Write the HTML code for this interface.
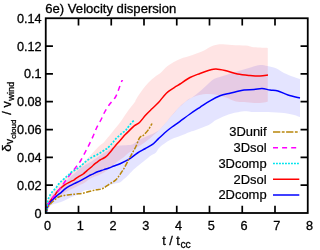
<!DOCTYPE html>
<html><head><meta charset="utf-8"><title>6e) Velocity dispersion</title>
<style>
html,body{margin:0;padding:0;background:#fff;}
body{width:320px;height:250px;overflow:hidden;position:relative;font-family:"Liberation Sans",sans-serif;}
</style></head><body>
<svg width="320" height="250" viewBox="0 0 320 250" style="position:absolute;left:0;top:0;will-change:transform">
<rect width="320" height="250" fill="#fff"/>
<path d="M46.00,213.00 C46.17,211.83 46.50,208.08 47.00,206.00 C47.50,203.92 48.08,202.33 49.00,200.50 C49.92,198.67 51.33,196.58 52.50,195.00 C53.67,193.42 54.75,192.33 56.00,191.00 C57.25,189.67 58.33,188.67 60.00,187.00 C61.67,185.33 64.33,182.67 66.00,181.00 C67.67,179.33 68.33,178.50 70.00,177.00 C71.67,175.50 74.33,173.40 76.00,172.00 C77.67,170.60 78.33,169.85 80.00,168.60 C81.67,167.35 84.07,165.73 86.00,164.50 C87.93,163.27 89.40,162.63 91.60,161.20 C93.80,159.77 96.92,157.42 99.20,155.90 C101.48,154.38 103.83,152.98 105.30,152.10 C106.77,151.22 106.57,151.53 108.00,150.60 C109.43,149.67 112.03,147.33 113.90,146.50 C115.77,145.67 116.85,145.85 119.20,145.60 C121.55,145.35 125.83,145.17 128.00,145.00 C130.18,144.83 130.67,145.27 132.25,144.60 C133.83,143.93 135.62,142.14 137.50,141.00 C139.38,139.86 141.25,138.82 143.50,137.75 C145.75,136.68 148.58,135.72 151.00,134.60 C153.42,133.47 156.33,132.10 158.00,131.00 C159.67,129.90 159.67,129.42 161.00,128.00 C162.33,126.58 164.27,124.55 166.00,122.50 C167.73,120.45 169.73,117.68 171.40,115.70 C173.07,113.72 174.57,112.17 176.00,110.60 C177.43,109.03 178.00,108.13 180.00,106.30 C182.00,104.47 186.00,101.07 188.00,99.60 C190.00,98.13 190.00,98.88 192.00,97.50 C194.00,96.12 197.33,93.55 200.00,91.30 C202.67,89.05 205.67,86.05 208.00,84.00 C210.33,81.95 211.67,80.28 214.00,79.00 C216.33,77.72 219.00,77.30 222.00,76.30 C225.00,75.30 228.67,74.05 232.00,73.00 C235.33,71.95 238.67,71.00 242.00,70.00 C245.33,69.00 249.00,67.83 252.00,67.00 C255.00,66.17 257.40,65.17 260.00,65.00 C262.60,64.83 264.93,65.45 267.60,66.00 C270.27,66.55 273.27,67.13 276.00,68.30 C278.73,69.47 281.00,71.55 284.00,73.00 C287.00,74.45 291.33,76.00 294.00,77.00 C296.67,78.00 299.00,78.67 300.00,79.00 L300.00,117.00 C299.00,116.67 296.67,115.67 294.00,115.00 C291.33,114.33 288.33,113.50 284.00,113.00 C279.67,112.50 273.00,112.17 268.00,112.00 C263.00,111.83 258.00,112.13 254.00,112.00 C250.00,111.87 247.00,111.10 244.00,111.20 C241.00,111.30 239.00,111.90 236.00,112.60 C233.00,113.30 229.33,114.17 226.00,115.40 C222.67,116.63 218.67,118.53 216.00,120.00 C213.33,121.47 212.25,122.95 210.00,124.20 C207.75,125.45 204.83,126.53 202.50,127.50 C200.17,128.47 198.08,129.25 196.00,130.00 C193.92,130.75 192.67,131.00 190.00,132.00 C187.33,133.00 183.33,134.67 180.00,136.00 C176.67,137.33 173.33,138.17 170.00,140.00 C166.67,141.83 162.33,144.92 160.00,147.00 C157.67,149.08 157.50,151.07 156.00,152.50 C154.50,153.93 152.88,154.25 151.00,155.60 C149.12,156.95 146.83,158.93 144.75,160.60 C142.67,162.27 140.58,163.87 138.50,165.60 C136.42,167.33 134.00,169.35 132.25,171.00 C130.50,172.65 129.38,174.15 128.00,175.50 C126.62,176.85 125.29,177.97 124.00,179.10 C122.71,180.22 121.71,181.52 120.25,182.25 C118.79,182.98 117.12,182.97 115.25,183.50 C113.38,184.03 111.08,184.67 109.00,185.40 C106.92,186.13 104.83,187.28 102.75,187.90 C100.67,188.52 98.58,188.79 96.50,189.10 C94.42,189.41 92.33,189.47 90.25,189.75 C88.17,190.03 85.96,190.05 84.00,190.80 C82.04,191.55 80.67,193.18 78.50,194.25 C76.33,195.32 73.50,196.12 71.00,197.25 C68.50,198.38 65.47,200.11 63.50,201.00 C61.53,201.89 60.45,202.18 59.20,202.60 C57.95,203.02 57.27,203.12 56.00,203.50 C54.73,203.88 52.83,204.17 51.60,204.90 C50.37,205.63 49.53,206.55 48.60,207.90 C47.67,209.25 46.43,212.15 46.00,213.00 Z" fill="#0000ff" fill-opacity="0.105"/>
<path d="M46.00,213.00 C46.08,212.42 46.33,210.60 46.50,209.50 C46.67,208.40 46.72,208.05 47.00,206.40 C47.28,204.75 47.75,201.37 48.20,199.60 C48.65,197.83 48.98,197.15 49.70,195.80 C50.42,194.45 51.45,192.83 52.50,191.50 C53.55,190.17 54.92,189.12 56.00,187.80 C57.08,186.48 57.98,184.80 59.00,183.60 C60.02,182.40 60.95,181.68 62.10,180.60 C63.25,179.52 64.92,177.98 65.90,177.10 C66.88,176.22 67.15,176.12 68.00,175.30 C68.85,174.48 69.98,173.08 71.00,172.20 C72.02,171.32 73.08,170.70 74.10,170.00 C75.12,169.30 76.08,168.75 77.10,168.00 C78.12,167.25 79.18,166.37 80.20,165.50 C81.22,164.63 82.07,163.88 83.20,162.80 C84.33,161.72 85.98,160.03 87.00,159.00 C88.02,157.97 88.13,157.85 89.30,156.60 C90.47,155.35 92.35,153.27 94.00,151.50 C95.65,149.73 97.53,147.55 99.20,146.00 C100.87,144.45 102.57,143.60 104.00,142.20 C105.43,140.80 106.53,139.13 107.80,137.60 C109.07,136.07 110.58,134.27 111.60,133.00 C112.62,131.73 112.32,132.00 113.90,130.00 C115.48,128.00 118.88,124.02 121.10,121.00 C123.32,117.98 124.92,115.07 127.20,111.90 C129.48,108.73 133.33,104.07 134.80,102.00 C136.27,99.93 134.76,101.50 136.00,99.50 C137.24,97.50 140.17,92.82 142.25,90.00 C144.33,87.18 146.42,84.77 148.50,82.60 C150.58,80.43 152.67,78.67 154.75,77.00 C156.83,75.33 158.88,74.43 161.00,72.60 C163.12,70.77 164.33,68.27 167.50,66.00 C170.67,63.73 175.83,60.83 180.00,59.00 C184.17,57.17 188.33,56.50 192.50,55.00 C196.67,53.50 202.08,51.33 205.00,50.00 C207.92,48.67 207.83,47.93 210.00,47.00 C212.17,46.07 214.33,44.73 218.00,44.40 C221.67,44.07 227.33,44.80 232.00,45.00 C236.67,45.20 242.67,45.27 246.00,45.60 C249.33,45.93 249.67,46.67 252.00,47.00 C254.33,47.33 257.37,47.43 260.00,47.60 C262.63,47.77 266.50,47.93 267.80,48.00 L267.80,101.50 C267.17,101.65 266.30,102.15 264.00,102.40 C261.70,102.65 257.33,103.07 254.00,103.00 C250.67,102.93 247.00,102.23 244.00,102.00 C241.00,101.77 239.00,102.33 236.00,101.60 C233.00,100.87 229.33,98.73 226.00,97.60 C222.67,96.47 219.33,95.40 216.00,94.80 C212.67,94.20 209.33,93.80 206.00,94.00 C202.67,94.20 199.00,95.02 196.00,96.00 C193.00,96.98 190.67,98.13 188.00,99.90 C185.33,101.67 182.00,104.77 180.00,106.60 C178.00,108.43 177.43,109.33 176.00,110.90 C174.57,112.47 173.07,114.02 171.40,116.00 C169.73,117.98 167.73,120.75 166.00,122.80 C164.27,124.85 162.33,126.88 161.00,128.30 C159.67,129.72 158.83,130.52 158.00,131.30 C157.17,132.08 157.58,131.62 156.00,133.00 C154.42,134.38 151.00,137.60 148.50,139.60 C146.00,141.60 143.29,143.47 141.00,145.00 C138.71,146.53 136.83,147.42 134.75,148.75 C132.67,150.08 130.29,151.62 128.50,153.00 C126.71,154.38 125.46,155.83 124.00,157.00 C122.54,158.17 121.22,158.92 119.75,160.00 C118.28,161.08 116.99,162.08 115.20,163.50 C113.41,164.92 110.87,167.00 109.00,168.50 C107.13,170.00 105.80,171.35 104.00,172.50 C102.20,173.65 99.92,174.67 98.20,175.40 C96.48,176.13 95.22,176.27 93.70,176.90 C92.18,177.53 90.63,178.22 89.10,179.20 C87.57,180.18 86.52,181.58 84.50,182.80 C82.48,184.02 79.42,185.33 77.00,186.50 C74.58,187.67 72.17,188.63 70.00,189.80 C67.83,190.97 66.00,192.22 64.00,193.50 C62.00,194.78 59.83,196.25 58.00,197.50 C56.17,198.75 54.42,199.83 53.00,201.00 C51.58,202.17 50.67,202.50 49.50,204.50 C48.33,206.50 46.58,211.58 46.00,213.00 Z" fill="#ff0000" fill-opacity="0.105"/>
<path d="M46.00,213.00 C46.08,212.42 46.27,210.85 46.50,209.50 C46.73,208.15 46.80,206.30 47.40,204.90 C48.00,203.50 49.15,202.37 50.10,201.10 C51.05,199.83 52.28,198.32 53.10,197.30 C53.92,196.28 54.35,195.88 55.00,195.00 C55.65,194.12 56.07,193.13 57.00,192.00 C57.93,190.87 59.25,189.42 60.60,188.20 C61.95,186.98 63.58,185.72 65.10,184.70 C66.62,183.68 68.18,182.92 69.70,182.10 C71.22,181.28 73.22,180.38 74.20,179.80 C75.18,179.22 74.73,179.20 75.60,178.60 C76.47,178.00 78.13,176.97 79.40,176.20 C80.67,175.43 81.93,174.93 83.20,174.00 C84.47,173.07 85.53,171.85 87.00,170.60 C88.47,169.35 90.85,167.50 92.00,166.50 C93.15,165.50 93.08,165.30 93.90,164.60 C94.72,163.90 95.88,163.07 96.90,162.30 C97.92,161.53 98.98,160.63 100.00,160.00 C101.02,159.37 102.00,159.07 103.00,158.50 C104.00,157.93 105.17,157.23 106.00,156.60 C106.83,155.97 106.82,156.03 108.00,154.70 C109.18,153.37 111.73,150.25 113.10,148.60 C114.47,146.95 115.18,146.00 116.20,144.80 C117.22,143.60 118.20,142.53 119.20,141.40 C120.20,140.27 121.18,139.13 122.20,138.00 C123.22,136.87 124.33,135.62 125.30,134.60 C126.27,133.58 126.47,133.40 128.00,131.90 C129.53,130.40 132.58,127.17 134.50,125.60 C136.42,124.03 137.62,124.27 139.50,122.50 C141.38,120.73 143.67,117.29 145.75,115.00 C147.83,112.71 149.88,110.82 152.00,108.75 C154.12,106.68 156.58,104.66 158.50,102.60 C160.42,100.54 161.83,98.27 163.50,96.40 C165.17,94.53 166.42,93.07 168.50,91.40 C170.58,89.73 174.08,87.63 176.00,86.40 C177.92,85.17 177.67,85.48 180.00,84.00 C182.33,82.52 186.67,79.25 190.00,77.50 C193.33,75.75 196.67,74.75 200.00,73.50 C203.33,72.25 207.33,70.75 210.00,70.00 C212.67,69.25 213.50,68.92 216.00,69.00 C218.50,69.08 221.42,69.67 225.00,70.50 C228.58,71.33 233.33,73.17 237.50,74.00 C241.67,74.83 246.25,75.17 250.00,75.50 C253.75,75.83 257.00,76.08 260.00,76.00 C263.00,75.92 266.67,75.17 268.00,75.00" fill="none" stroke="#ff0000" stroke-width="1.5" stroke-linejoin="round"/>
<path d="M46.00,213.00 C46.12,212.72 46.40,212.40 46.70,211.30 C47.00,210.20 47.23,207.85 47.80,206.40 C48.37,204.95 49.22,203.80 50.10,202.60 C50.98,201.40 52.08,200.22 53.10,199.20 C54.12,198.18 55.43,197.20 56.20,196.50 C56.97,195.80 56.85,195.70 57.70,195.00 C58.55,194.30 60.07,193.32 61.30,192.30 C62.53,191.28 63.70,189.97 65.10,188.90 C66.50,187.83 68.18,186.78 69.70,185.90 C71.22,185.02 72.48,184.43 74.20,183.60 C75.92,182.77 78.12,181.85 80.00,180.90 C81.88,179.95 83.95,178.78 85.50,177.90 C87.05,177.02 88.22,176.18 89.30,175.60 C90.38,175.02 90.63,175.03 92.00,174.40 C93.37,173.77 96.17,172.37 97.50,171.80 C98.83,171.23 98.92,171.37 100.00,171.00 C101.08,170.63 102.50,170.10 104.00,169.60 C105.50,169.10 107.33,168.60 109.00,168.00 C110.67,167.40 112.17,166.71 114.00,166.00 C115.83,165.29 117.54,164.85 120.00,163.75 C122.46,162.65 125.83,161.19 128.75,159.40 C131.67,157.61 134.79,154.78 137.50,153.00 C140.21,151.22 142.50,150.18 145.00,148.75 C147.50,147.32 150.25,146.09 152.50,144.40 C154.75,142.71 156.25,140.72 158.50,138.60 C160.75,136.48 163.75,133.63 166.00,131.70 C168.25,129.77 169.67,128.73 172.00,127.00 C174.33,125.27 177.00,123.47 180.00,121.30 C183.00,119.13 186.67,116.33 190.00,114.00 C193.33,111.67 196.67,109.50 200.00,107.30 C203.33,105.10 206.67,102.72 210.00,100.80 C213.33,98.88 216.67,97.07 220.00,95.80 C223.33,94.53 227.33,93.88 230.00,93.20 C232.67,92.52 233.67,92.23 236.00,91.70 C238.33,91.17 241.00,90.35 244.00,90.00 C247.00,89.65 251.00,89.83 254.00,89.60 C257.00,89.37 259.33,88.53 262.00,88.60 C264.67,88.67 267.33,89.60 270.00,90.00 C272.67,90.40 275.00,90.17 278.00,91.00 C281.00,91.83 284.33,93.83 288.00,95.00 C291.67,96.17 298.00,97.50 300.00,98.00" fill="none" stroke="#0000ff" stroke-width="1.5" stroke-linejoin="round"/>
<path d="M46.00,213.00 C46.12,212.58 46.37,211.50 46.70,210.50 C47.03,209.50 47.32,208.18 48.00,207.00 C48.68,205.82 49.82,204.45 50.80,203.40 C51.78,202.35 52.75,201.68 53.90,200.70 C55.05,199.72 56.43,198.28 57.70,197.50 C58.97,196.72 60.12,196.38 61.50,196.00 C62.88,195.62 64.33,195.43 66.00,195.20 C67.67,194.97 69.75,194.80 71.50,194.60 C73.25,194.40 74.62,194.23 76.50,194.00 C78.38,193.77 80.46,193.67 82.75,193.20 C85.04,192.73 87.96,191.77 90.25,191.20 C92.54,190.62 94.42,190.20 96.50,189.75 C98.58,189.30 100.67,189.41 102.75,188.50 C104.83,187.59 106.92,185.65 109.00,184.30 C111.08,182.95 113.58,181.78 115.25,180.40 C116.92,179.02 117.96,177.36 119.00,176.00 C120.04,174.64 120.67,173.50 121.50,172.25 C122.33,171.00 122.83,170.54 124.00,168.50 C125.17,166.46 127.12,162.57 128.50,160.00 C129.88,157.43 131.00,155.39 132.25,153.10 C133.50,150.81 134.88,148.63 136.00,146.25 C137.12,143.87 138.17,140.44 139.00,138.80 C139.83,137.16 140.25,137.00 141.00,136.40 C141.75,135.80 142.25,136.33 143.50,135.20 C144.75,134.07 147.08,131.55 148.50,129.60 C149.92,127.65 151.42,124.52 152.00,123.50" fill="none" stroke="#b8860b" stroke-width="1.5" stroke-dasharray="5.2,1.4,1.8,1.4" stroke-linejoin="round"/>
<path d="M46.00,213.00 C46.08,212.42 46.27,210.85 46.50,209.50 C46.73,208.15 46.80,206.30 47.40,204.90 C48.00,203.50 49.15,202.37 50.10,201.10 C51.05,199.83 52.28,198.32 53.10,197.30 C53.92,196.28 53.88,196.40 55.00,195.00 C56.12,193.60 58.13,191.15 59.80,188.90 C61.47,186.65 63.38,183.77 65.00,181.50 C66.62,179.23 67.67,177.72 69.50,175.30 C71.33,172.88 74.17,169.38 76.00,167.00 C77.83,164.62 78.95,163.50 80.50,161.00 C82.05,158.50 83.80,154.87 85.30,152.00 C86.80,149.13 88.13,146.58 89.50,143.80 C90.87,141.02 92.29,138.02 93.50,135.30 C94.71,132.58 95.50,130.09 96.75,127.50 C98.00,124.91 99.62,122.42 101.00,119.75 C102.38,117.08 103.50,114.17 105.00,111.50 C106.50,108.83 108.25,106.17 110.00,103.75 C111.75,101.33 114.00,99.54 115.50,97.00 C117.00,94.46 117.96,91.12 119.00,88.50 C120.04,85.88 121.17,82.70 121.75,81.25 C122.33,79.80 122.38,80.04 122.50,79.80" fill="none" stroke="#ff00ff" stroke-width="1.5" stroke-dasharray="5,4.1" stroke-dashoffset="2.39" stroke-linejoin="round"/>
<path d="M46.00,213.00 C46.08,212.42 46.33,210.60 46.50,209.50 C46.67,208.40 46.72,208.05 47.00,206.40 C47.28,204.75 47.75,201.37 48.20,199.60 C48.65,197.83 48.98,197.15 49.70,195.80 C50.42,194.45 51.45,192.83 52.50,191.50 C53.55,190.17 54.92,189.12 56.00,187.80 C57.08,186.48 57.98,184.80 59.00,183.60 C60.02,182.40 60.95,181.68 62.10,180.60 C63.25,179.52 64.92,177.93 65.90,177.10 C66.88,176.27 67.15,176.37 68.00,175.60 C68.85,174.83 69.98,173.33 71.00,172.50 C72.02,171.67 73.08,171.23 74.10,170.60 C75.12,169.97 76.08,169.38 77.10,168.70 C78.12,168.02 79.18,167.32 80.20,166.50 C81.22,165.68 82.07,164.78 83.20,163.80 C84.33,162.82 85.85,161.48 87.00,160.60 C88.15,159.72 89.08,159.17 90.10,158.50 C91.12,157.83 92.08,157.17 93.10,156.60 C94.12,156.03 95.18,155.60 96.20,155.10 C97.22,154.60 98.20,154.17 99.20,153.60 C100.20,153.03 101.18,152.40 102.20,151.70 C103.22,151.00 104.50,149.92 105.30,149.40 C106.10,148.88 106.20,149.23 107.00,148.60 C107.80,147.97 109.08,146.67 110.10,145.60 C111.12,144.53 112.08,143.40 113.10,142.20 C114.12,141.00 115.18,139.48 116.20,138.40 C117.22,137.32 118.20,136.60 119.20,135.70 C120.20,134.80 121.18,133.82 122.20,133.00 C123.22,132.18 124.50,131.51 125.30,130.80 C126.10,130.09 126.09,129.93 127.00,128.75 C127.91,127.58 129.50,125.21 130.75,123.75 C132.00,122.29 133.88,120.62 134.50,120.00" fill="none" stroke="#00e5ee" stroke-width="1.7" stroke-dasharray="2,1.5" stroke-linejoin="round"/>
<rect x="45.75" y="18.25" width="262.0" height="194.75" fill="none" stroke="#000" stroke-width="1.8"/>
<path d="M78.50,213.0 v-7.2 M78.50,18.25 v7.2" stroke="#000" stroke-width="1.7"/>
<path d="M111.25,213.0 v-7.2 M111.25,18.25 v7.2" stroke="#000" stroke-width="1.7"/>
<path d="M144.00,213.0 v-7.2 M144.00,18.25 v7.2" stroke="#000" stroke-width="1.7"/>
<path d="M176.75,213.0 v-7.2 M176.75,18.25 v7.2" stroke="#000" stroke-width="1.7"/>
<path d="M209.50,213.0 v-7.2 M209.50,18.25 v7.2" stroke="#000" stroke-width="1.7"/>
<path d="M242.25,213.0 v-7.2 M242.25,18.25 v7.2" stroke="#000" stroke-width="1.7"/>
<path d="M275.00,213.0 v-7.2 M275.00,18.25 v7.2" stroke="#000" stroke-width="1.7"/>
<path d="M45.75,185.18 h7.2 M307.75,185.18 h-7.2" stroke="#000" stroke-width="1.7"/>
<path d="M45.75,157.36 h7.2 M307.75,157.36 h-7.2" stroke="#000" stroke-width="1.7"/>
<path d="M45.75,129.54 h7.2 M307.75,129.54 h-7.2" stroke="#000" stroke-width="1.7"/>
<path d="M45.75,101.71 h7.2 M307.75,101.71 h-7.2" stroke="#000" stroke-width="1.7"/>
<path d="M45.75,73.89 h7.2 M307.75,73.89 h-7.2" stroke="#000" stroke-width="1.7"/>
<path d="M45.75,46.07 h7.2 M307.75,46.07 h-7.2" stroke="#000" stroke-width="1.7"/>
<text x="47.55" y="230.3" text-anchor="middle" font-family="Liberation Sans, sans-serif" font-size="12.7" fill="#000" stroke="#000" stroke-width="0.3">0</text>
<text x="80.30" y="230.3" text-anchor="middle" font-family="Liberation Sans, sans-serif" font-size="12.7" fill="#000" stroke="#000" stroke-width="0.3">1</text>
<text x="113.05" y="230.3" text-anchor="middle" font-family="Liberation Sans, sans-serif" font-size="12.7" fill="#000" stroke="#000" stroke-width="0.3">2</text>
<text x="145.80" y="230.3" text-anchor="middle" font-family="Liberation Sans, sans-serif" font-size="12.7" fill="#000" stroke="#000" stroke-width="0.3">3</text>
<text x="178.55" y="230.3" text-anchor="middle" font-family="Liberation Sans, sans-serif" font-size="12.7" fill="#000" stroke="#000" stroke-width="0.3">4</text>
<text x="211.30" y="230.3" text-anchor="middle" font-family="Liberation Sans, sans-serif" font-size="12.7" fill="#000" stroke="#000" stroke-width="0.3">5</text>
<text x="244.05" y="230.3" text-anchor="middle" font-family="Liberation Sans, sans-serif" font-size="12.7" fill="#000" stroke="#000" stroke-width="0.3">6</text>
<text x="276.80" y="230.3" text-anchor="middle" font-family="Liberation Sans, sans-serif" font-size="12.7" fill="#000" stroke="#000" stroke-width="0.3">7</text>
<text x="309.55" y="230.3" text-anchor="middle" font-family="Liberation Sans, sans-serif" font-size="12.7" fill="#000" stroke="#000" stroke-width="0.3">8</text>
<text x="41.6" y="217.60" text-anchor="end" font-family="Liberation Sans, sans-serif" font-size="12.7" fill="#000" stroke="#000" stroke-width="0.3">0</text>
<text x="41.6" y="189.78" text-anchor="end" font-family="Liberation Sans, sans-serif" font-size="12.7" fill="#000" stroke="#000" stroke-width="0.3">0.02</text>
<text x="41.6" y="161.96" text-anchor="end" font-family="Liberation Sans, sans-serif" font-size="12.7" fill="#000" stroke="#000" stroke-width="0.3">0.04</text>
<text x="41.6" y="134.14" text-anchor="end" font-family="Liberation Sans, sans-serif" font-size="12.7" fill="#000" stroke="#000" stroke-width="0.3">0.06</text>
<text x="41.6" y="106.31" text-anchor="end" font-family="Liberation Sans, sans-serif" font-size="12.7" fill="#000" stroke="#000" stroke-width="0.3">0.08</text>
<text x="41.6" y="78.49" text-anchor="end" font-family="Liberation Sans, sans-serif" font-size="12.7" fill="#000" stroke="#000" stroke-width="0.3">0.1</text>
<text x="41.6" y="50.67" text-anchor="end" font-family="Liberation Sans, sans-serif" font-size="12.7" fill="#000" stroke="#000" stroke-width="0.3">0.12</text>
<text x="41.6" y="22.85" text-anchor="end" font-family="Liberation Sans, sans-serif" font-size="12.7" fill="#000" stroke="#000" stroke-width="0.3">0.14</text>
<text x="45.3" y="12.9" font-family="Liberation Sans, sans-serif" font-size="13.1" fill="#000" stroke="#000" stroke-width="0.3">6e) Velocity dispersion</text>
<text x="162.2" y="245" font-family="Liberation Sans, sans-serif" font-size="12.7" fill="#000" stroke="#000" stroke-width="0.3">t / t<tspan font-size="10.3" dy="2.6" dx="0.6">cc</tspan></text>
<g transform="translate(10.6,151.7) rotate(-90)"><text x="0" y="0" font-family="Liberation Sans, sans-serif" font-size="12.7" fill="#000" stroke="#000" stroke-width="0.3"><tspan font-size="13.7">δ</tspan><tspan font-size="10" dy="2.4" dx="0.15">v</tspan><tspan font-size="8" dy="2.9" dx="0.15">cloud</tspan><tspan dy="-5.3" dx="1.5" font-size="12.7"> / v</tspan><tspan font-size="9.2" dy="3.4" dx="0.5">wind</tspan></text></g>
<text x="266.6" y="136.40" text-anchor="end" font-family="Liberation Sans, sans-serif" font-size="12.95" fill="#000" stroke="#000" stroke-width="0.2">3Dunif</text>
<path d="M273,132.00 H299.3" stroke="#b8860b" stroke-width="1.5" stroke-dasharray="7.3,1.5,2.8,1.5" fill="none"/>
<text x="266.6" y="152.15" text-anchor="end" font-family="Liberation Sans, sans-serif" font-size="12.95" fill="#000" stroke="#000" stroke-width="0.2">3Dsol</text>
<path d="M273,147.75 H299.3" stroke="#ff00ff" stroke-width="1.5" stroke-dasharray="5,4.1" fill="none"/>
<text x="266.6" y="167.90" text-anchor="end" font-family="Liberation Sans, sans-serif" font-size="12.95" fill="#000" stroke="#000" stroke-width="0.2">3Dcomp</text>
<path d="M273,163.50 H299.3" stroke="#00e5ee" stroke-width="1.5" stroke-dasharray="1.9,1.1" fill="none"/>
<text x="266.6" y="183.65" text-anchor="end" font-family="Liberation Sans, sans-serif" font-size="12.95" fill="#000" stroke="#000" stroke-width="0.2">2Dsol</text>
<path d="M273,179.25 H299.3" stroke="#ff0000" stroke-width="1.5" fill="none"/>
<text x="266.6" y="199.40" text-anchor="end" font-family="Liberation Sans, sans-serif" font-size="12.95" fill="#000" stroke="#000" stroke-width="0.2">2Dcomp</text>
<path d="M273,195.00 H299.3" stroke="#0000ff" stroke-width="1.5" fill="none"/>
</svg>
</body></html>
